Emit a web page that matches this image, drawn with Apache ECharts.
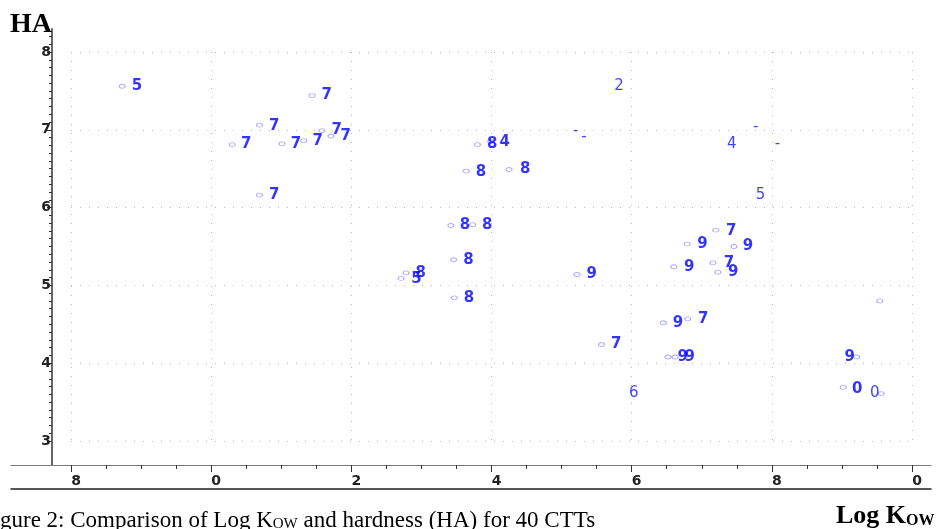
<!DOCTYPE html>
<html>
<head>
<meta charset="utf-8">
<script src="https://cdn.jsdelivr.net/npm/echarts@6/dist/echarts.min.js"></script>
<style>
  html, body { margin: 0; padding: 0; background: #fff; }
  #chart { width: 939px; height: 529px; }
</style>
</head>
<body>
<div id="chart"></div>
<script>
// axis ticks (values) and the text printed under / beside them
const xTicks = [-2, 0, 2, 4, 6, 8, 10]
const xTickLabels = ['8', '0', '2', '4', '6', '8', '0']
const xMinorTicks = [-1.5, -1, -0.5, 0.5, 1, 1.5, 2.5, 3, 3.5, 4.5, 5, 5.5, 6.5, 7, 7.5, 8.5, 9, 9.5]
const yTicks = [3, 4, 5, 6, 7, 8]
const yTickLabels = ['3', '4', '5', '6', '7', '8']
const yMinorTicks = []
for (let v = 31; v <= 82; v++) if (v % 10) yMinorTicks.push(v / 10)

// compound markers [log Kow, HA]
const circles = [
  [-1.27, 7.56], [1.44, 7.44], [0.69, 7.06], [0.30, 6.81], [1.01, 6.82],
  [1.32, 6.86], [1.58, 6.99], [1.71, 6.92], [0.69, 6.16],
  [3.80, 6.81], [3.99, 6.85], [3.64, 6.47], [4.25, 6.49], [3.42, 5.77],
  [3.73, 5.78], [3.46, 5.33], [2.78, 5.16], [2.71, 5.09], [3.47, 4.84],
  [5.22, 5.14], [5.57, 4.24], [7.20, 5.71], [6.79, 5.53], [7.46, 5.50],
  [6.60, 5.24], [7.16, 5.29], [7.23, 5.17], [6.45, 4.52], [6.80, 4.57],
  [6.52, 4.08], [6.62, 4.08], [9.54, 4.80], [9.21, 4.08], [9.02, 3.69],
  [9.56, 3.61]
]

// overprinted marker labels [log Kow, HA, text]
const heavyLabels = [
  [-1.06, 7.56, '5'], [1.65, 7.44, '7'], [0.90, 7.05, '7'], [0.50, 6.81, '7'],
  [1.21, 6.82, '7'], [1.52, 6.86, '7'], [1.79, 6.99, '7'], [1.92, 6.92, '7'],
  [0.90, 6.16, '7'], [4.01, 6.81, '8'], [4.19, 6.84, '4'], [3.85, 6.46, '8'],
  [4.48, 6.49, '8'], [3.62, 5.77, '8'], [3.94, 5.78, '8'], [3.67, 5.33, '8'],
  [2.99, 5.16, '8'], [2.93, 5.08, '5'], [3.68, 4.84, '8'], [5.43, 5.14, '9'],
  [5.78, 4.24, '7'], [7.42, 5.70, '7'], [7.01, 5.53, '9'], [7.66, 5.50, '9'],
  [6.82, 5.24, '9'], [7.39, 5.29, '7'], [7.45, 5.17, '9'], [6.66, 4.52, '9'],
  [7.02, 4.57, '7'], [6.73, 4.08, '9'], [6.83, 4.08, '9'], [9.11, 4.08, '9'],
  [9.22, 3.67, '0']
]

// single labels and stray marks [log Kow, HA, text]
const lightLabels = [
  [5.82, 7.56, '2'], [7.43, 6.81, '4'], [7.84, 6.16, '5'], [6.03, 3.61, '6'],
  [9.47, 3.61, '0'], [5.20, 6.98, '-'], [5.32, 6.91, '-'], [7.77, 7.04, '-'],
  [8.08, 6.81, '-']
]

// frame: outer grid holds the axes, inner grid the dotted box and the data
const outer = { left: 11, right: 8, top: 29, bottom: 64 }
const inner = { left: 71, right: 27, top: 52, bottom: 88 }
const W = 939, H = 529
const xPerUnit = (W - inner.left - inner.right) / 12
const yPerUnit = (H - inner.top - inner.bottom) / 5
const xMin = -2 - (inner.left - outer.left) / xPerUnit
const xMax = 10 + (inner.right - outer.right) / xPerUnit
const yMax = 8 + (inner.top - outer.top) / yPerUnit
const yMin = 3 - (inner.bottom - outer.bottom) / yPerUnit
const yAxisShift = -(inner.left - outer.left - 19)

const chart = echarts.init(document.getElementById('chart'), null, { renderer: 'canvas' })

const tickFont = { fontFamily: 'DejaVu Sans', fontSize: 14, fontWeight: 'bold', color: '#222' }
const serif = 'Liberation Serif'

chart.setOption({
  animation: false,
  backgroundColor: '#fff',
  title: [
    {
      text: 'HA', left: 10, top: 11, padding: 0,
      textStyle: { fontFamily: serif, fontWeight: 'bold', fontSize: 28, color: '#000' }
    },
    {
      text: 'gure 2: Comparison of Log K{s|OW} and hardness (HA) for 40 CTTs',
      left: 0, top: 509, padding: 0,
      textStyle: {
        fontFamily: serif, fontWeight: 'normal', fontSize: 23, color: '#000',
        rich: { s: { fontFamily: serif, fontSize: 15, color: '#000', verticalAlign: 'bottom', padding: [6, 0, 0, 0] } }
      }
    },
    {
      text: 'Log K{s|OW}',
      left: 836, top: 503, padding: 0,
      textStyle: {
        fontFamily: serif, fontWeight: 'bold', fontSize: 26, color: '#000',
        rich: { s: { fontFamily: serif, fontWeight: 'bold', fontSize: 16, color: '#000', verticalAlign: 'bottom', padding: [8, 0, 0, 0] } }
      }
    }
  ],
  grid: [
    { left: outer.left, right: outer.right, top: outer.top, bottom: outer.bottom },
    { left: inner.left, right: inner.right, top: inner.top, bottom: inner.bottom }
  ],
  xAxis: [
    {
      type: 'value', gridIndex: 0, min: xMin, max: xMax, position: 'bottom',
      axisLine: { show: true, onZero: false, lineStyle: { color: '#777', width: 1.2 } },
      axisTick: { show: true, length: 7, customValues: xTicks, lineStyle: { color: '#333' } },
      axisLabel: {
        show: true, margin: 9, customValues: xTicks, padding: [0, 0, 0, 10],
        formatter: (v) => xTickLabels[xTicks.indexOf(v)] ?? '', ...tickFont
      },
      splitLine: { show: false }
    },
    {
      type: 'value', gridIndex: 0, min: xMin, max: xMax, position: 'bottom',
      axisLine: { show: false, onZero: false },
      axisTick: { show: true, length: 4, customValues: xMinorTicks, lineStyle: { color: '#333' } },
      axisLabel: { show: false },
      splitLine: { show: false }
    },
    {
      type: 'value', gridIndex: 0, min: xMin, max: xMax, position: 'bottom', offset: 24,
      axisLine: { show: true, onZero: false, lineStyle: { color: '#222', width: 1.5 } },
      axisTick: { show: false }, axisLabel: { show: false }, splitLine: { show: false }
    },
    {
      type: 'value', gridIndex: 1, min: -2, max: 10, interval: 2,
      axisLine: { show: false }, axisTick: { show: false }, axisLabel: { show: false },
      splitLine: { show: true, lineStyle: { color: '#b8b8b8', width: 1, type: [1, 8] } }
    }
  ],
  yAxis: [
    {
      type: 'value', gridIndex: 0, min: yMin, max: yMax, position: 'left', offset: yAxisShift,
      axisLine: { show: true, onZero: false, lineStyle: { color: '#666', width: 2 } },
      axisTick: { show: true, length: 5, customValues: yTicks, lineStyle: { color: '#333' } },
      axisLabel: {
        show: true, margin: 1, customValues: yTicks,
        formatter: (v) => yTickLabels[yTicks.indexOf(v)] ?? '', ...tickFont
      },
      splitLine: { show: false }
    },
    {
      type: 'value', gridIndex: 0, min: yMin, max: yMax, position: 'left', offset: yAxisShift,
      axisLine: { show: false, onZero: false },
      axisTick: { show: true, length: 3, customValues: yMinorTicks, lineStyle: { color: '#333' } },
      axisLabel: { show: false },
      splitLine: { show: false }
    },
    {
      type: 'value', gridIndex: 1, min: 3, max: 8, interval: 1,
      axisLine: { show: false }, axisTick: { show: false }, axisLabel: { show: false },
      splitLine: { show: true, lineStyle: { color: '#b8b8b8', width: 1, type: [1, 8] } }
    }
  ],
  series: [
    {
      type: 'scatter', xAxisIndex: 3, yAxisIndex: 2,
      data: circles,
      symbol: 'circle', symbolSize: [6, 4],
      itemStyle: { color: 'rgba(0,0,0,0)', borderColor: '#9a9aff', borderWidth: 1 },
      emphasis: { disabled: true }, silent: true
    },
    {
      type: 'scatter', xAxisIndex: 3, yAxisIndex: 2,
      data: heavyLabels,
      symbolSize: 1, itemStyle: { color: 'rgba(0,0,0,0)' },
      label: {
        show: true, position: 'inside', formatter: (p) => p.data[2],
        fontFamily: 'DejaVu Sans', fontSize: 15, fontWeight: 'bold', color: '#0000ff'
      },
      emphasis: { disabled: true }, silent: true
    },
    {
      type: 'scatter', xAxisIndex: 3, yAxisIndex: 2,
      data: lightLabels,
      symbolSize: 1, itemStyle: { color: 'rgba(0,0,0,0)' },
      label: {
        show: true, position: 'inside', formatter: (p) => p.data[2],
        fontFamily: 'DejaVu Sans', fontSize: 15, fontWeight: 'normal', color: '#1010ff'
      },
      emphasis: { disabled: true }, silent: true
    }
  ]
})
</script>
</body>
</html>
